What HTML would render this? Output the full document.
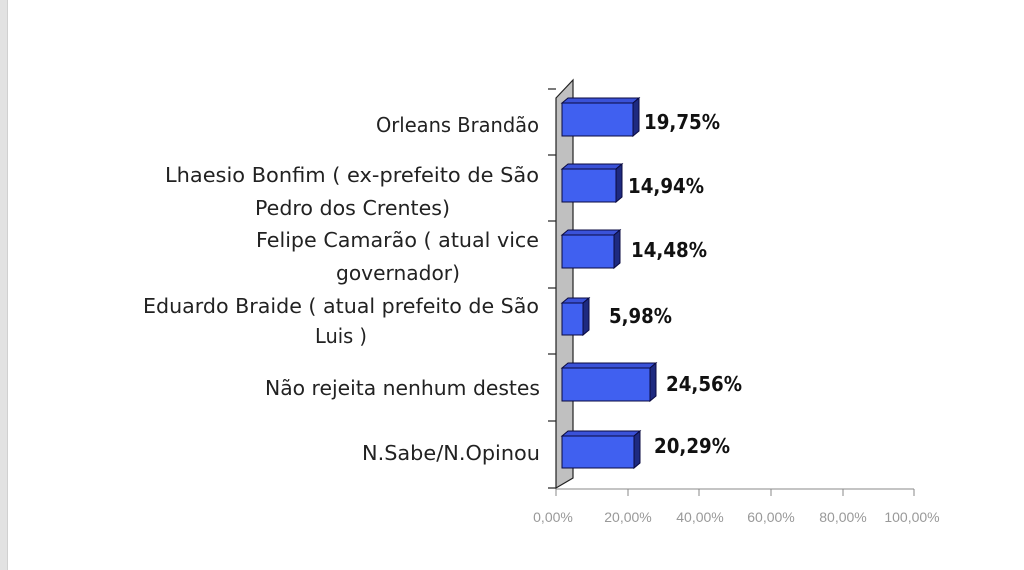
<!DOCTYPE html>
<html><head><meta charset="utf-8"><style>
html,body{margin:0;padding:0;background:#fff;width:1024px;height:570px;overflow:hidden}
</style></head><body>
<svg width="1024" height="570" viewBox="0 0 1024 570" xmlns="http://www.w3.org/2000/svg">
<rect x="0" y="0" width="7" height="570" fill="#e2e2e2"/>
<rect x="7" y="0" width="1" height="570" fill="#d0d0d0"/>
<polygon points="556,98 573,80 573,478 556,488" fill="#c0c0c0" stroke="#222" stroke-width="1.2"/>
<g stroke="#222" stroke-width="1.2">
<line x1="548" y1="89" x2="556" y2="89"/>
<line x1="548" y1="155" x2="556" y2="155"/>
<line x1="548" y1="221" x2="556" y2="221"/>
<line x1="548" y1="288" x2="556" y2="288"/>
<line x1="548" y1="354" x2="556" y2="354"/>
<line x1="548" y1="421" x2="556" y2="421"/>
<line x1="548" y1="488" x2="556" y2="488"/>
</g>
<g stroke="#888" stroke-width="1">
<line x1="556" y1="489" x2="914" y2="489"/>
<line x1="556" y1="489" x2="556" y2="496"/>
<line x1="628" y1="489" x2="628" y2="496"/>
<line x1="699" y1="489" x2="699" y2="496"/>
<line x1="771" y1="489" x2="771" y2="496"/>
<line x1="843" y1="489" x2="843" y2="496"/>
<line x1="914" y1="489" x2="914" y2="496"/>
</g>
<g font-family="Liberation Sans, sans-serif" font-size="14" fill="#999" text-anchor="middle">
<text x="553" y="522">0,00%</text>
<text x="628" y="522">20,00%</text>
<text x="700" y="522">40,00%</text>
<text x="771" y="522">60,00%</text>
<text x="843" y="522">80,00%</text>
<text x="912" y="522">100,00%</text>
</g>
<g stroke="#0a0a40" stroke-width="1">
<g><polygon points="562,103 568,98 639,98 633,103" fill="#3a52d8"/><polygon points="633,103 639,98 639,131 633,136" fill="#1e2a80"/><rect x="562" y="103" width="71" height="33" fill="#4060f0"/></g>
<g><polygon points="562,169 568,164 622,164 616,169" fill="#3a52d8"/><polygon points="616,169 622,164 622,197 616,202" fill="#1e2a80"/><rect x="562" y="169" width="54" height="33" fill="#4060f0"/></g>
<g><polygon points="562,235 568,230 620,230 614,235" fill="#3a52d8"/><polygon points="614,235 620,230 620,263 614,268" fill="#1e2a80"/><rect x="562" y="235" width="52" height="33" fill="#4060f0"/></g>
<g><polygon points="562,303 568,298 589,298 583,303" fill="#3a52d8"/><polygon points="583,303 589,298 589,330 583,335" fill="#1e2a80"/><rect x="562" y="303" width="21" height="32" fill="#4060f0"/></g>
<g><polygon points="562,368 568,363 656,363 650,368" fill="#3a52d8"/><polygon points="650,368 656,363 656,396 650,401" fill="#1e2a80"/><rect x="562" y="368" width="88" height="33" fill="#4060f0"/></g>
<g><polygon points="562,436 568,431 640,431 634,436" fill="#3a52d8"/><polygon points="634,436 640,431 640,463 634,468" fill="#1e2a80"/><rect x="562" y="436" width="72" height="32" fill="#4060f0"/></g>
</g>
<g font-family="DejaVu Sans, sans-serif" font-size="20" font-weight="bold" fill="#111">
<text x="644" y="129" textLength="76" lengthAdjust="spacingAndGlyphs">19,75%</text>
<text x="628" y="193" textLength="76" lengthAdjust="spacingAndGlyphs">14,94%</text>
<text x="631" y="257" textLength="76" lengthAdjust="spacingAndGlyphs">14,48%</text>
<text x="609" y="323" textLength="63" lengthAdjust="spacingAndGlyphs">5,98%</text>
<text x="666" y="391" textLength="76" lengthAdjust="spacingAndGlyphs">24,56%</text>
<text x="654" y="453" textLength="76" lengthAdjust="spacingAndGlyphs">20,29%</text>
</g>
<g font-family="DejaVu Sans, sans-serif" font-size="20" fill="#222">
<text x="376" y="132" textLength="163" lengthAdjust="spacingAndGlyphs">Orleans Brandão</text>
<text x="165" y="182" textLength="374" lengthAdjust="spacingAndGlyphs">Lhaesio Bonfim ( ex-prefeito de São</text>
<text x="255" y="215" textLength="195" lengthAdjust="spacingAndGlyphs">Pedro dos Crentes)</text>
<text x="256" y="247" textLength="283" lengthAdjust="spacingAndGlyphs">Felipe Camarão ( atual vice</text>
<text x="336" y="280" textLength="124" lengthAdjust="spacingAndGlyphs">governador)</text>
<text x="143" y="313" textLength="396" lengthAdjust="spacingAndGlyphs">Eduardo Braide ( atual prefeito de São</text>
<text x="315" y="343" textLength="52" lengthAdjust="spacingAndGlyphs">Luis )</text>
<text x="265" y="395" textLength="275" lengthAdjust="spacingAndGlyphs">Não rejeita nenhum destes</text>
<text x="362" y="460" textLength="178" lengthAdjust="spacingAndGlyphs">N.Sabe/N.Opinou</text>
</g>
</svg>
</body></html>
